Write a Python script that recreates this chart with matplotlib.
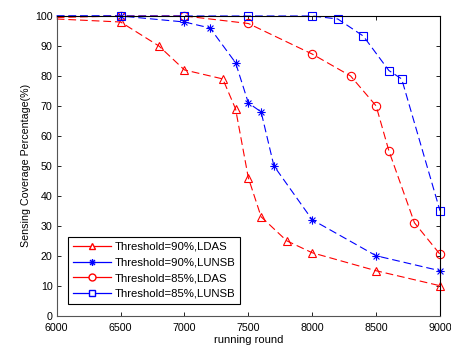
import matplotlib
matplotlib.use("Agg")
import matplotlib.pyplot as plt
from matplotlib.path import Path
from matplotlib.lines import Line2D
import numpy as np

plt.rcParams['font.family'] = ['Liberation Sans', 'DejaVu Sans']

x_ldas90 = [6000, 6500, 6800, 7000, 7300, 7400, 7500, 7600, 7800, 8000, 8500, 9000]
y_ldas90 = [99, 98, 90, 82, 79, 69, 46, 33, 25, 21, 15, 10]

x_lunsb90 = [6000, 6500, 7000, 7200, 7400, 7500, 7600, 7700, 8000, 8500, 9000]
y_lunsb90 = [100, 100, 98, 96, 84.4, 71, 68, 50, 32, 20, 15]

x_ldas85 = [6000, 6500, 7000, 7500, 8000, 8300, 8500, 8600, 8800, 9000]
y_ldas85 = [99.5, 100, 100, 97.5, 87.3, 80, 70, 55, 31, 20.5]

x_lunsb85 = [6000, 6500, 7000, 7500, 8000, 8200, 8400, 8600, 8700, 9000]
y_lunsb85 = [100, 100, 100, 100, 100, 99, 93.3, 81.8, 79, 35]

labels = ['Threshold=90%,LDAS', 'Threshold=90%,LUNSB',
          'Threshold=85%,LDAS', 'Threshold=85%,LUNSB']

# Matlab-like asterisk marker
verts, codes = [], []
for a in np.deg2rad([0, 45, 90, 135]):
    c, s = np.cos(a), np.sin(a)
    verts += [(-c, -s), (c, s)]
    codes += [Path.MOVETO, Path.LINETO]
ast = Path(verts, codes)

fig = plt.figure(figsize=(4.51, 3.47), dpi=100)
ax = fig.add_axes([0.1257, 0.0902, 0.8499, 0.8637])

dash = (0, (7, 3.5))
kw = dict(linewidth=0.8, linestyle=dash, markerfacecolor='none',
          markeredgewidth=0.8, clip_on=False)
ax.plot(x_ldas90, y_ldas90, color='#ff0000', marker='^', markersize=6,
        markevery=list(range(1, len(x_ldas90))), **kw)
ax.plot(x_lunsb90, y_lunsb90, color='#0000ff', marker=ast, markersize=6,
        markevery=list(range(1, len(x_lunsb90))), **kw)
ax.plot(x_ldas85, y_ldas85, color='#ff0000', marker='o', markersize=6,
        markevery=list(range(1, len(x_ldas85))), **kw)
ax.plot(x_lunsb85, y_lunsb85, color='#0000ff', marker='s', markersize=6,
        markevery=list(range(1, len(x_lunsb85))), **kw)

ax.set_xlim(6000, 9000)
ax.set_ylim(0, 100)
ax.set_xticks([6000, 6500, 7000, 7500, 8000, 8500, 9000])
ax.set_yticks(range(0, 101, 10))
ax.tick_params(direction='in', top=True, right=True, labelsize=7.7, length=3, width=0.6)
ax.tick_params(axis='x', pad=5)
ax.tick_params(axis='y', pad=3)
for s in ax.spines.values():
    s.set_linewidth(0.8)
ax.spines['left'].set_color('#555555')
ax.spines['bottom'].set_color('#555555')

ax.set_xlabel('running round', fontsize=8, labelpad=2)
ax.set_ylabel('Sensing Coverage Percentage(%)', fontsize=7.7, labelpad=3)

handles = [
    Line2D([], [], color='#ff0000', marker='^', markersize=5, markerfacecolor='white', lw=0.9),
    Line2D([], [], color='#0000ff', marker=ast, markersize=5, markerfacecolor='none', lw=0.9),
    Line2D([], [], color='#ff0000', marker='o', markersize=5, markerfacecolor='white', lw=0.9),
    Line2D([], [], color='#0000ff', marker='s', markersize=5, markerfacecolor='white', lw=0.9),
]
leg = ax.legend(handles, labels, loc='lower left', bbox_to_anchor=(0.029, 0.039), fontsize=8.2,
                fancybox=False, edgecolor='black', framealpha=1, handlelength=3.3,
                borderpad=0.45, labelspacing=0.5, handletextpad=0.35, borderaxespad=0)
leg.get_frame().set_linewidth(0.8)

fig.savefig('out.png', dpi=100)
